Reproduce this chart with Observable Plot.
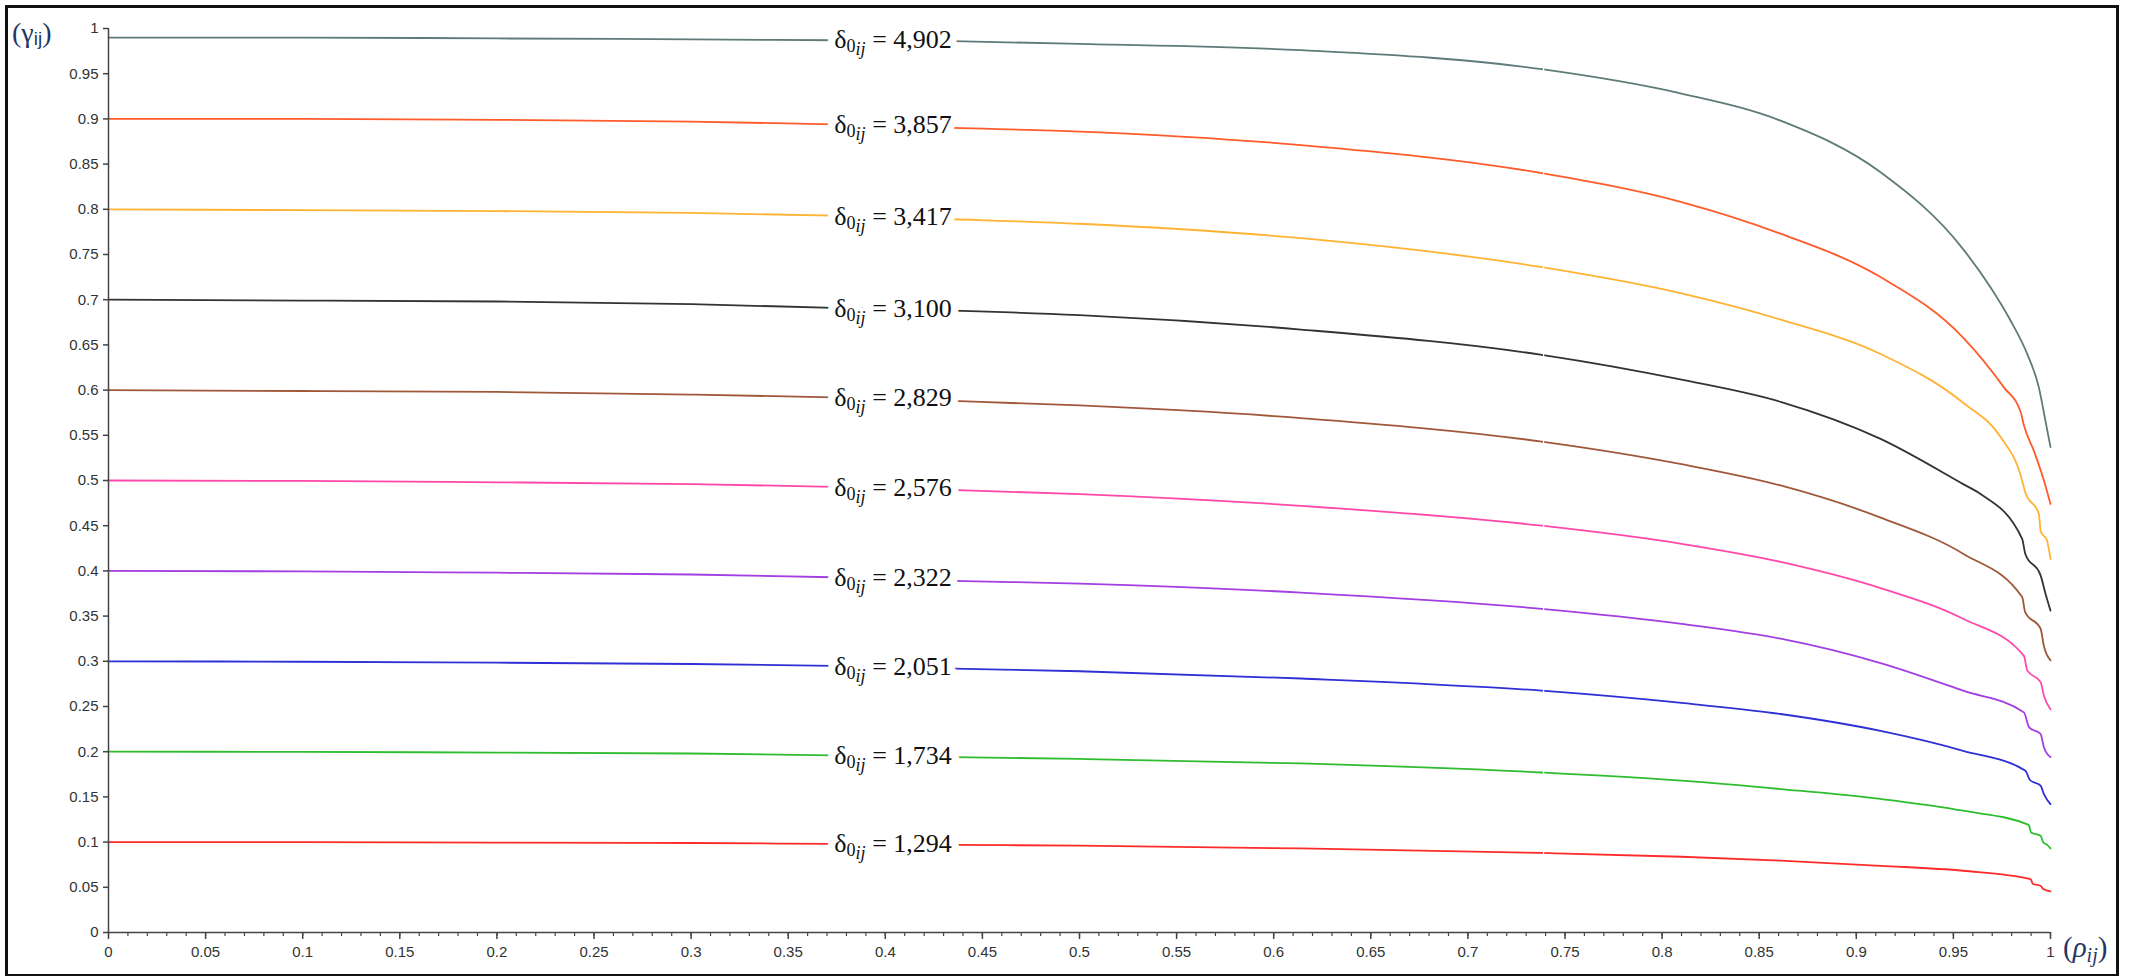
<!DOCTYPE html>
<html><head><meta charset="utf-8">
<script src="https://cdn.jsdelivr.net/npm/d3@7"></script>
<script src="https://cdn.jsdelivr.net/npm/@observablehq/plot@0.6"></script>
<style>
body{margin:0;background:#fff;}
#chart{position:absolute;left:0;top:0;}
#frame{position:absolute;left:5px;top:5px;width:2108px;height:966px;border:3px solid #111;pointer-events:none;}
</style></head><body>
<div id="chart"></div><div id="frame"></div>
<script>
// ---- data ----
const deltaLabels = ["4,902","3,857","3,417","3,100","2,829","2,576","2,322","2,051","1,734","1,294"];
const seriesColors = ["#5e7b79","#ff5b2b","#ffb233","#333333","#a0583a","#ff48aa","#a23ee2","#2f2fd6","#2fbd2f","#ff2b2b"];

const rhoMain = [0, 0.1, 0.2, 0.3, 0.373, 0.435, 0.5, 0.614, 0.738, 0.81, 0.861, 0.9125, 0.955];

const gamma4902 = [0.990,0.990,0.989,0.988,0.987,0.986,0.983,0.976,0.955,0.928,0.898,0.841,0.756];
const rhoTail4902 = [0.969,0.9794,0.988,0.994,0.9974,1.0];
const gammaTail4902 = [0.714,0.677,0.640,0.603,0.566,0.537];

const gamma3857 = [0.900,0.900,0.899,0.897,0.894,0.890,0.886,0.871,0.840,0.808,0.773,0.725,0.658];
const rhoTail3857 = [0.976,0.9846,0.9863,0.9914,0.9966,1.0];
const gammaTail3857 = [0.603,0.576,0.561,0.533,0.500,0.474];

const gamma3417 = [0.800,0.799,0.798,0.796,0.793,0.789,0.784,0.768,0.736,0.707,0.678,0.640,0.586];
const rhoTail3417 = [0.9743,0.9846,0.987,0.994,0.995,0.998,1.0];
const gammaTail3417 = [0.548,0.506,0.487,0.463,0.443,0.435,0.413];

const gamma3100 = [0.700,0.699,0.698,0.695,0.691,0.688,0.683,0.667,0.639,0.6115,0.587,0.546,0.496];
const rhoTail3100 = [0.964,0.9854,0.987,0.9949,0.9974,1.0];
const gammaTail3100 = [0.485,0.4355,0.419,0.395,0.375,0.356];

const gamma2829 = [0.600,0.599,0.598,0.595,0.592,0.588,0.583,0.569,0.543,0.518,0.4945,0.459,0.419];
const rhoTail2829 = [0.9854,0.987,0.9949,0.9966,1.0];
const gammaTail2829 = [0.371,0.354,0.336,0.317,0.301];

const gamma2576 = [0.500,0.4995,0.498,0.496,0.493,0.4895,0.485,0.472,0.450,0.430,0.410,0.381,0.347];
const rhoTail2576 = [0.9863,0.988,0.9949,0.9966,1.0];
const gammaTail2576 = [0.306,0.290,0.277,0.262,0.247];

const gamma2322 = [0.400,0.3995,0.398,0.396,0.393,0.389,0.386,0.376,0.358,0.3414,0.325,0.298,0.2675];
const rhoTail2322 = [0.9863,0.989,0.9949,0.9966,1.0];
const gammaTail2322 = [0.2435,0.227,0.2196,0.205,0.194];

const gamma2051 = [0.300,0.2995,0.2985,0.297,0.295,0.292,0.289,0.281,0.2675,0.254,0.2417,0.223,0.201];
const rhoTail2051 = [0.9871,0.9894,0.9949,0.9966,1.0];
const gammaTail2051 = [0.179,0.1687,0.1624,0.153,0.142];

const gamma1734 = [0.200,0.1998,0.199,0.198,0.196,0.194,0.192,0.187,0.177,0.168,0.1587,0.1477,0.1347];
const rhoTail1734 = [0.9888,0.990,0.9949,0.9963,0.9983,1.0];
const gammaTail1734 = [0.119,0.1107,0.107,0.0996,0.097,0.093];

const gamma1294 = [0.100,0.0999,0.0995,0.099,0.098,0.097,0.096,0.093,0.088,0.0838,0.0794,0.0738,0.0683];
const rhoTail1294 = [0.9897,0.991,0.9949,0.9963,1.0];
const gammaTail1294 = [0.059,0.0536,0.0517,0.048,0.0454];

const yTicks = [0,0.05,0.1,0.15,0.2,0.25,0.3,0.35,0.4,0.45,0.5,0.55,0.6,0.65,0.7,0.75,0.8,0.85,0.9,0.95,1];
const yTickLabels = ["0","0.05","0.1","0.15","0.2","0.25","0.3","0.35","0.4","0.45","0.5","0.55","0.6","0.65","0.7","0.75","0.8","0.85","0.9","0.95","1"];
const xTicks = yTicks;
const xTickLabels = yTickLabels;
const xMinorTicks = d3.range(0, 101).map(i => i / 100);
const labelRho = 0.404;
const gapRho = 0.739;

// ---- build table ----
const mains = [gamma4902,gamma3857,gamma3417,gamma3100,gamma2829,gamma2576,gamma2322,gamma2051,gamma1734,gamma1294];
const tailsR = [rhoTail4902,rhoTail3857,rhoTail3417,rhoTail3100,rhoTail2829,rhoTail2576,rhoTail2322,rhoTail2051,rhoTail1734,rhoTail1294];
const tailsG = [gammaTail4902,gammaTail3857,gammaTail3417,gammaTail3100,gammaTail2829,gammaTail2576,gammaTail2322,gammaTail2051,gammaTail1734,gammaTail1294];

const rows = [];
const labelRows = [];
deltaLabels.forEach((d, i) => {
  const pts = rhoMain.map((r, k) => ({series: d, rho: r, gamma: mains[i][k]}))
    .concat(tailsR[i].map((r, k) => ({series: d, rho: r, gamma: tailsG[i][k]})));
  rows.push(...pts);
  const j = d3.bisector(p => p.rho).left(pts, labelRho);
  const a = pts[j - 1], b = pts[j];
  const g = a.gamma + (b.gamma - a.gamma) * (labelRho - a.rho) / (b.rho - a.rho);
  labelRows.push({series: d, rho: labelRho, gamma: g, label: "δ0ij = " + d});
});

const fmtY = new Map(yTicks.map((t, i) => [t, yTickLabels[i]]));
const fmtX = new Map(xTicks.map((t, i) => [t, xTickLabels[i]]));
const serif = "'Liberation Serif', 'DejaVu Serif', serif";

const plot = Plot.plot({
  width: 2132, height: 976,
  marginLeft: 108, marginRight: 82, marginTop: 28, marginBottom: 44,
  x: {domain: [0, 1]},
  y: {domain: [0, 1]},
  color: {domain: deltaLabels, range: seriesColors},
  style: {fontFamily: "'Liberation Sans', Arial, sans-serif", fontSize: "15px", color: "#333", background: "white"},
  marks: [
    Plot.line(rows, {x: "rho", y: "gamma", z: "series", stroke: "series", strokeWidth: 1.8, curve: "monotone-x"}),
    Plot.ruleX([gapRho], {y1: 0.03, y2: 1, stroke: "white", strokeWidth: 1.2}),
    Plot.axisY({ticks: yTicks, tickSize: 5, tickPadding: 5, tickFormat: t => fmtY.get(t), label: null, stroke: "#444", strokeWidth: 1.5, fill: "#333"}),
    Plot.axisX({ticks: xMinorTicks, tickSize: 4, text: null, label: null, stroke: "#444", strokeWidth: 1.2}),
    Plot.axisX({ticks: xTicks, tickSize: 7, tickPadding: 7, tickFormat: t => fmtX.get(t), label: null, stroke: "#444", strokeWidth: 1.5, fill: "#333"}),
    Plot.ruleX([0], {y1: 0, y2: 1, stroke: "#444", strokeWidth: 1.5}),
    Plot.ruleY([0], {x1: 0, x2: 1, stroke: "#444", strokeWidth: 1.5}),
    // white halo layer, then the text itself on top
    Plot.text(labelRows, {x: "rho", y: "gamma", text: "label", fill: "white", stroke: "white", strokeWidth: 15,
      fontFamily: serif, fontSize: 26, textAnchor: "middle", dy: -1}),
    Plot.text(labelRows, {x: "rho", y: "gamma", text: "label", fill: "#111", strokeWidth: 0,
      fontFamily: serif, fontSize: 26, textAnchor: "middle", dy: -1})
  ]
});
document.getElementById("chart").appendChild(plot);

// subscripts in the curve labels
const svg = d3.select(plot);
svg.selectAll('g[aria-label="text"] text').each(function () {
  const t = d3.select(this);
  const s = t.text();
  const val = s.split("= ")[1];
  t.text(null);
  t.append("tspan").text("δ");
  t.append("tspan").attr("dy", 4).attr("font-size", 18).text("0");
  t.append("tspan").attr("dy", 3).attr("font-size", 18).attr("font-style", "italic").text("ij");
  t.append("tspan").attr("dy", -7).text(" = " + val);
});

// axis titles
const navy = "#1f3864";
const yt = svg.append("text").attr("x", 12).attr("y", 42).attr("text-anchor", "start")
  .attr("font-family", serif).attr("font-size", 28).attr("fill", navy);
yt.append("tspan").text("(γ");
yt.append("tspan").attr("dy", 3).attr("font-size", 19).attr("font-family", "'Liberation Sans', Arial, sans-serif").text("ij");
yt.append("tspan").attr("dy", -3).text(")");

const xt = svg.append("text").attr("x", 2063).attr("y", 957).attr("text-anchor", "start")
  .attr("font-family", serif).attr("font-size", 29).attr("fill", navy);
xt.append("tspan").text("(");
xt.append("tspan").attr("font-style", "italic").text("ρ");
xt.append("tspan").attr("dy", 5).attr("font-size", 20).attr("font-style", "italic").text("ij");
xt.append("tspan").attr("dy", -5).text(")");
</script></body></html>
